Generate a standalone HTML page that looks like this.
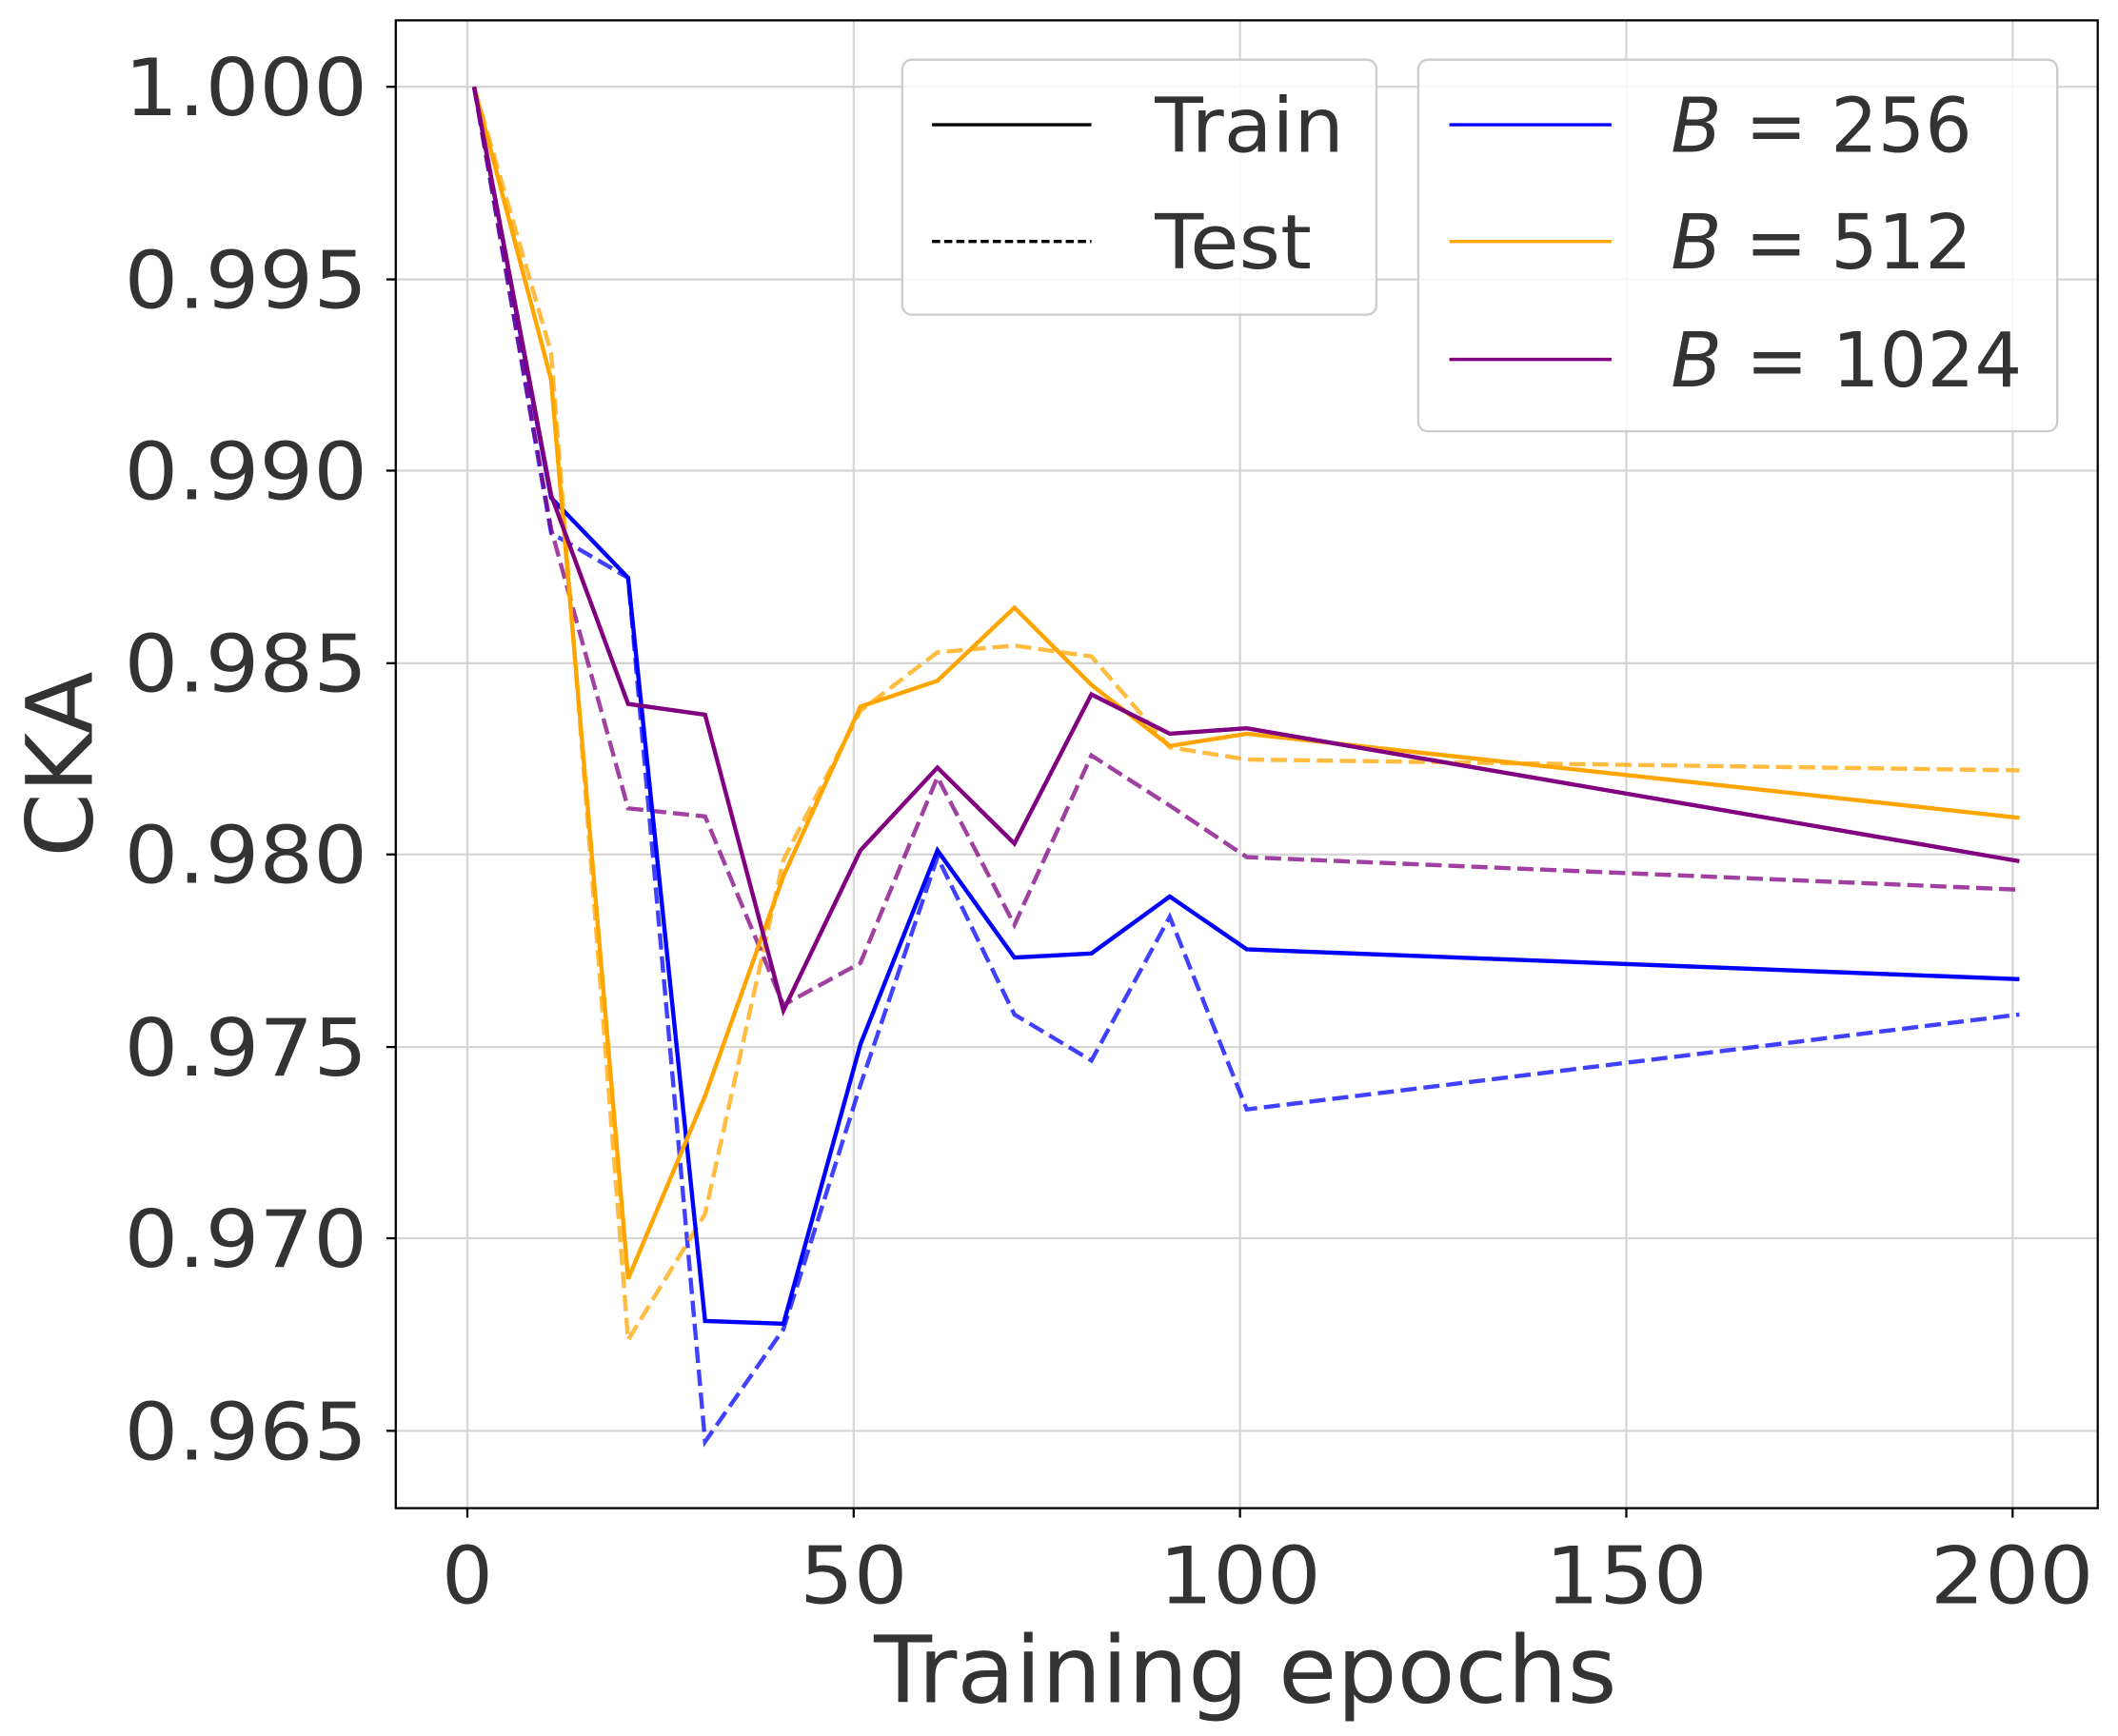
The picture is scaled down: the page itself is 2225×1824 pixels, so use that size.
<!DOCTYPE html>
<html><head><style>html,body{margin:0;padding:0;background:#fff}svg{display:block}</style></head>
<body>
<svg width="2225" height="1824" viewBox="0 0 1568 1280" preserveAspectRatio="none" xmlns="http://www.w3.org/2000/svg" font-family="'DejaVu Sans','Liberation Sans',sans-serif">
<rect width="1568" height="1280" fill="#fff"/>
<g stroke="#d6d6d6" stroke-width="1.6">
<line x1="346" y1="15" x2="346" y2="1112"/><line x1="632" y1="15" x2="632" y2="1112"/><line x1="918" y1="15" x2="918" y2="1112"/><line x1="1204" y1="15" x2="1204" y2="1112"/><line x1="1490" y1="15" x2="1490" y2="1112"/>
<line x1="293" y1="64" x2="1553" y2="64"/><line x1="293" y1="206" x2="1553" y2="206"/><line x1="293" y1="347" x2="1553" y2="347"/><line x1="293" y1="489" x2="1553" y2="489"/><line x1="293" y1="630" x2="1553" y2="630"/><line x1="293" y1="772" x2="1553" y2="772"/><line x1="293" y1="913" x2="1553" y2="913"/><line x1="293" y1="1055" x2="1553" y2="1055"/>
</g>
<g fill="none" stroke-width="3.1" stroke-linejoin="miter">
<polyline stroke="#0000ff" opacity="0.75" stroke-dasharray="12,5" points="351,64 408,393 465,426 522,1063 580,980 637,800 694,632 751,748 808,782 866,676 923,818 1495,748"/>
<polyline stroke="#ffa500" opacity="0.75" stroke-dasharray="12,5" points="351,64 408,260 465,988 522,895 580,634 637,524 694,481 751,476 808,484 866,551 923,560 1495,568"/>
<polyline stroke="#800080" opacity="0.75" stroke-dasharray="12,5" points="351,64 408,390 465,596 522,602 580,741 637,710 694,573 751,682 808,557 866,594 923,632 1495,656"/>
<polyline stroke="#0000ff" points="351,64 408,367 465,426 522,974 580,976 637,770 694,627 751,706 808,703 866,661 923,700 1495,722"/>
<polyline stroke="#ffa500" points="351,64 408,280 465,943 522,808 580,646 637,521 694,502 751,448 808,505 866,550 923,541 1495,603"/>
<polyline stroke="#800080" points="351,64 408,365 465,519 522,527 580,745 637,627 694,566 751,622 808,512 866,541 923,537 1495,635"/>
</g>
<rect x="293" y="15" width="1260" height="1097" fill="none" stroke="#000" stroke-width="1.6"/>
<g stroke="#000" stroke-width="1.6">
<line x1="346" y1="1112" x2="346" y2="1119"/><line x1="632" y1="1112" x2="632" y2="1119"/><line x1="918" y1="1112" x2="918" y2="1119"/><line x1="1204" y1="1112" x2="1204" y2="1119"/><line x1="1490" y1="1112" x2="1490" y2="1119"/>
<line x1="286" y1="64" x2="293" y2="64"/><line x1="286" y1="206" x2="293" y2="206"/><line x1="286" y1="347" x2="293" y2="347"/><line x1="286" y1="489" x2="293" y2="489"/><line x1="286" y1="630" x2="293" y2="630"/><line x1="286" y1="772" x2="293" y2="772"/><line x1="286" y1="913" x2="293" y2="913"/><line x1="286" y1="1055" x2="293" y2="1055"/>
</g>
<g fill="#333" font-size="58" text-anchor="end" lengthAdjust="spacingAndGlyphs">
<text x="272" y="85" textLength="180" lengthAdjust="spacingAndGlyphs">1.000</text><text x="272" y="227" textLength="180" lengthAdjust="spacingAndGlyphs">0.995</text><text x="272" y="368" textLength="180" lengthAdjust="spacingAndGlyphs">0.990</text><text x="272" y="510" textLength="180" lengthAdjust="spacingAndGlyphs">0.985</text><text x="272" y="651" textLength="180" lengthAdjust="spacingAndGlyphs">0.980</text><text x="272" y="793" textLength="180" lengthAdjust="spacingAndGlyphs">0.975</text><text x="272" y="934" textLength="180" lengthAdjust="spacingAndGlyphs">0.970</text><text x="272" y="1076" textLength="180" lengthAdjust="spacingAndGlyphs">0.965</text>
</g>
<g fill="#333" font-size="58">
<text x="327" y="1182" textLength="38" lengthAdjust="spacingAndGlyphs">0</text>
<text x="592" y="1182" textLength="80" lengthAdjust="spacingAndGlyphs">50</text>
<text x="858" y="1182" textLength="120" lengthAdjust="spacingAndGlyphs">100</text>
<text x="1144" y="1182" textLength="120" lengthAdjust="spacingAndGlyphs">150</text>
<text x="1429" y="1182" textLength="121" lengthAdjust="spacingAndGlyphs">200</text>
<text x="647" y="1255" font-size="68" textLength="550" lengthAdjust="spacingAndGlyphs">Training epochs</text>
<text transform="translate(68,632) rotate(-90)" font-size="68" textLength="137" lengthAdjust="spacingAndGlyphs">CKA</text>
</g>
<rect x="668" y="44" width="351" height="188" rx="7" fill="#fff" fill-opacity="0.8" stroke="#ccc" stroke-width="1.6"/>
<line x1="690" y1="92" x2="808" y2="92" stroke="#000" stroke-width="2.4"/>
<line x1="690" y1="178" x2="808" y2="178" stroke="#000" stroke-width="2.4" stroke-dasharray="6,3"/>
<g fill="#333" font-size="56"><text x="855" y="112" textLength="140" lengthAdjust="spacingAndGlyphs">Train</text><text x="855" y="198" textLength="116" lengthAdjust="spacingAndGlyphs">Test</text></g>
<rect x="1050" y="44" width="473" height="274" rx="7" fill="#fff" fill-opacity="0.8" stroke="#ccc" stroke-width="1.6"/>
<line x1="1073" y1="92" x2="1193" y2="92" stroke="#0000ff" stroke-width="2.4"/>
<line x1="1073" y1="178" x2="1193" y2="178" stroke="#ffa500" stroke-width="2.4"/>
<line x1="1073" y1="265" x2="1193" y2="265" stroke="#800080" stroke-width="2.4"/>
<g fill="#333" font-size="56"><text x="1237" y="112" textLength="223" lengthAdjust="spacingAndGlyphs"><tspan font-style="italic">B</tspan> = 256</text><text x="1237" y="198" textLength="223" lengthAdjust="spacingAndGlyphs"><tspan font-style="italic">B</tspan> = 512</text><text x="1237" y="285" textLength="260" lengthAdjust="spacingAndGlyphs"><tspan font-style="italic">B</tspan> = 1024</text></g>
</svg>
</body></html>
